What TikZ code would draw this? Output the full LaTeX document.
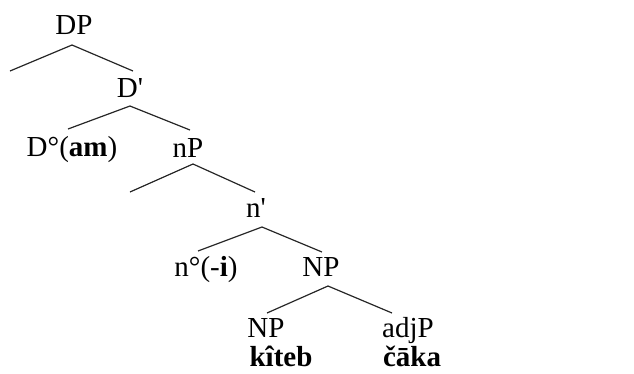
\documentclass[tikz,border=0pt]{standalone}
\usepackage{fontspec}
\newfontfamily\tnr{Liberation Serif}
\begin{document}
\begin{tikzpicture}[x=1pt,y=-1pt,
  lbl/.style={font=\tnr\fontsize{29}{31}\selectfont, anchor=base, inner sep=0pt, text=black},
  br/.style={draw=black!85, line width=1.2pt}]
\useasboundingbox (0,0) rectangle (634,373);
% labels
\node[lbl] (dp) at (74,34) {DP};
\node[lbl] (dbar) at (130,97) {D'};
\node[lbl] (d0) at (72,156) {D°(\textbf{am})};
\node[lbl] (np1) at (188,157) {nP};
\node[lbl] (nbar) at (256,217) {n'};
\node[lbl] (n0) at (206,276) {n°(-\textbf{i})};
\node[lbl] (np2) at (321,276) {NP};
\node[lbl] (np3) at (266,337) {NP};
\node[lbl] (kit) at (281,366) {\textbf{kîteb}};
\node[lbl] (adj) at (408,337) {adjP};
\node[lbl] (caka) at (412,366) {\textbf{čāka}};
% branch points
\coordinate (a1) at (72,45);  \coordinate (l1) at (10,71);  \coordinate (r1) at (133,71);
\coordinate (a2) at (130,106); \coordinate (l2) at (68,129); \coordinate (r2) at (190,130);
\coordinate (a3) at (193,164); \coordinate (l3) at (130,192); \coordinate (r3) at (255,192);
\coordinate (a4) at (262,227); \coordinate (l4) at (198,251); \coordinate (r4) at (322,252);
\coordinate (a5) at (328,286); \coordinate (l5) at (267,313); \coordinate (r5) at (392,313);
\draw[br] (l1) -- (a1) -- (r1);
\draw[br] (l2) -- (a2) -- (r2);
\draw[br] (l3) -- (a3) -- (r3);
\draw[br] (l4) -- (a4) -- (r4);
\draw[br] (l5) -- (a5) -- (r5);
\end{tikzpicture}
\end{document}
